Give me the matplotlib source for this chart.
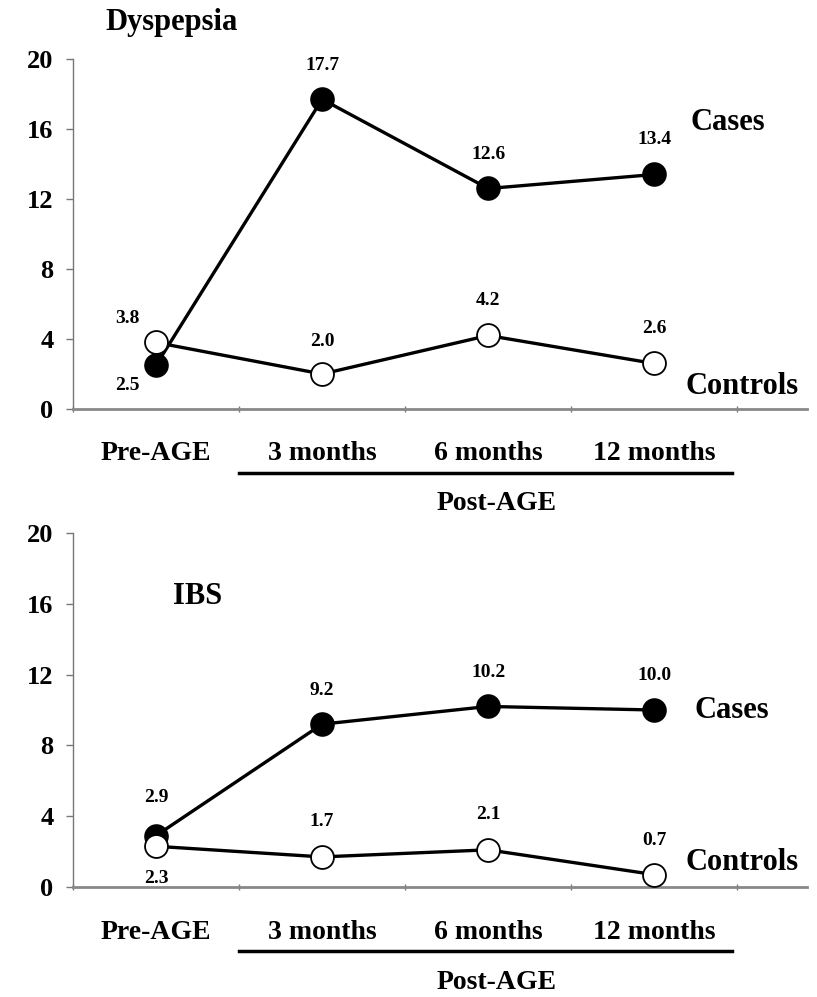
import matplotlib
matplotlib.use("Agg")
import matplotlib.pyplot as plt
import numpy as np

# categories along the x axis
categories = ['Pre-AGE', '3 months', '6 months', '12 months']
x_pos = np.array([0.5, 1.5, 2.5, 3.5])

# Dyspepsia panel
dys_cases = [2.5, 17.7, 12.6, 13.4]
dys_controls = [3.8, 2.0, 4.2, 2.6]

# IBS panel
ibs_cases = [2.9, 9.2, 10.2, 10.0]
ibs_controls = [2.3, 1.7, 2.1, 0.7]

yticks = [0, 4, 8, 12, 16, 20]

# label offsets (pixels) relative to the marker, per point
dys_case_off = [(-29, -20), (0, 34), (0, 34), (0, 35)]
dys_ctrl_off = [(-29, 24), (0, 33), (0, 35), (0, 35)]
ibs_case_off = [(0, 38), (0, 34), (0, 34), (0, 34)]
ibs_ctrl_off = [(0, -32), (0, 35), (0, 35), (0, 34)]

plt.rcParams['font.family'] = ['Liberation Serif', 'DejaVu Serif']
plt.rcParams['font.weight'] = 'bold'

fig = plt.figure(figsize=(8.17, 9.97), dpi=100)
W, H = 817, 997


def make_axes(top_px, bottom_px):
    return fig.add_axes([73 / W, (H - bottom_px) / H, 734 / W, (bottom_px - top_px) / H])


def draw_panel(ax, cases, controls, case_off, ctrl_off, title, title_xy, cases_xy, ctrl_xy):
    px = 0.72  # pixels -> points at 100 dpi
    ax.plot(x_pos, cases, color='black', lw=2.4, marker='o', ms=16.5,
            mfc='black', mec='black', mew=1.2, zorder=3)
    ax.plot(x_pos, controls, color='black', lw=2.4, marker='o', ms=16.5,
            mfc='white', mec='black', mew=1.3, zorder=4)

    for xv, yv, (dx, dy) in zip(x_pos, cases, case_off):
        ax.annotate(f'{yv:.1f}', (xv, yv), xytext=(dx * px, dy * px),
                    textcoords='offset points', ha='center', va='center',
                    fontsize=14, fontweight='bold')
    for xv, yv, (dx, dy) in zip(x_pos, controls, ctrl_off):
        ax.annotate(f'{yv:.1f}', (xv, yv), xytext=(dx * px, dy * px),
                    textcoords='offset points', ha='center', va='center',
                    fontsize=14, fontweight='bold')

    ax.set_xlim(0, 4.42)
    ax.set_ylim(0, 20)
    ax.set_yticks(yticks)
    ax.set_yticklabels([str(v) for v in yticks], fontsize=19, fontweight='bold')
    ax.set_xticks([0, 1, 2, 3, 4])
    ax.set_xticklabels([])
    ax.tick_params(axis='y', length=5, width=1, color='#777777', pad=9)
    ax.tick_params(axis='x', length=5, width=1, color='#777777', direction='inout')

    for s in ['top', 'right']:
        ax.spines[s].set_visible(False)
    ax.spines['left'].set_color('#777777')
    ax.spines['left'].set_linewidth(1.0)
    ax.spines['bottom'].set_color('#888888')
    ax.spines['bottom'].set_linewidth(2.0)

    # category labels under the axis
    tr = ax.get_xaxis_transform()
    for xv, lab in zip(x_pos, categories):
        ax.annotate(lab, (xv, 0), xycoords=tr, xytext=(0, -45 * px),
                    textcoords='offset points', ha='center', va='center',
                    fontsize=20, fontweight='bold')
    hpx = ax.get_position().height * H
    ax.plot([1.0, 3.97], [-64 / hpx, -64 / hpx], transform=tr, color='black',
            lw=2.5, clip_on=False)
    ax.annotate('Post-AGE', (2.55, 0), xycoords=tr, xytext=(0, -95 * px),
                textcoords='offset points', ha='center', va='center',
                fontsize=20, fontweight='bold')

    ax.text(title_xy[0], title_xy[1], title, transform=ax.transAxes,
            ha='left', va='center', fontsize=22, fontweight='bold')
    ax.text(cases_xy[0], cases_xy[1], 'Cases', ha='left', va='center',
            fontsize=22, fontweight='bold')
    ax.text(ctrl_xy[0], ctrl_xy[1], 'Controls', ha='left', va='center',
            fontsize=22, fontweight='bold')


ax1 = make_axes(59, 409)
draw_panel(ax1, dys_cases, dys_controls, dys_case_off, dys_ctrl_off,
           'Dyspepsia', (32 / 734, 1.105), (3.72, 16.4), (3.69, 1.26))

ax2 = make_axes(533, 887)
draw_panel(ax2, ibs_cases, ibs_controls, ibs_case_off, ibs_ctrl_off,
           'IBS', (100 / 734, 0.820), (3.74, 10.0), (3.69, 1.36))

fig.savefig('out.png', dpi=100)
